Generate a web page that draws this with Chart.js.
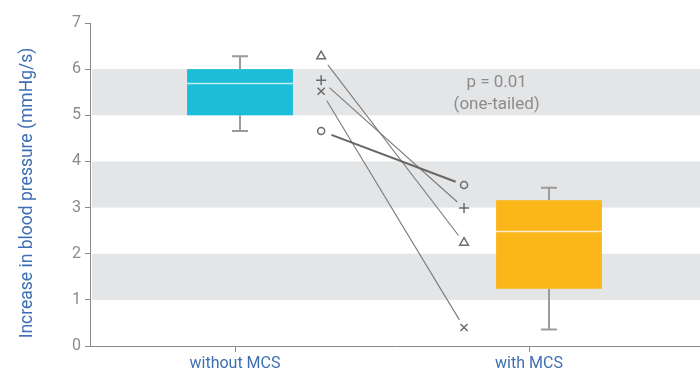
<!DOCTYPE html>
<html>
<head>
<meta charset="utf-8">
<script src="https://cdn.jsdelivr.net/npm/chart.js@4/dist/chart.umd.min.js"></script>
<style>
  html, body { margin: 0; padding: 0; background: #ffffff; }
  #wrap { width: 700px; height: 374px; }
</style>
</head>
<body>
<div id="wrap"><canvas id="c" width="700" height="374"></canvas></div>
<script>
// Groups on the x axis
const categories = ['without MCS', 'with MCS'];

// Box-plot summary per group
const boxMin    = [4.66, 0.36];
const boxQ1     = [5.00, 1.24];
const boxMedian = [5.69, 2.48];
const boxQ3     = [6.00, 3.16];
const boxMax    = [6.28, 3.43];

// Individual subjects, measured without and with MCS
const subjectMarkers = ['triangle', 'cross', 'crossRot', 'circle'];
const withoutMCS     = [6.28, 5.76, 5.52, 4.66];
const withMCS        = [2.24, 2.99, 0.40, 3.49];

// Shaded horizontal bands [from, to]
const bands = [[1, 2], [3, 4], [5, 6]];

// Y axis ticks
const yTicks = [0, 1, 2, 3, 4, 5, 6, 7];

// Annotation text
const pText = ['p = 0.01', '(one-tailed)'];

// Layout in x-axis units: category ticks sit at 1 and 2
const boxX = [1.017, 2.068];
const boxHalfWidth = 0.18;
const pairX = [1.293, 1.779];
const noteX = 1.89;
const noteY = [5.70, 5.22];

const FONT = 'Roboto, "DejaVu Sans", sans-serif';
const GREY_TEXT = '#8c8c8c';
const BLUE_TEXT = '#3f6fb3';
const BOX_COLORS = ['#1bbdd9', '#fbb619'];

const subjectDatasets = subjectMarkers.map((m, i) => ({
  type: 'scatter',
  data: [{ x: pairX[0], y: withoutMCS[i] }, { x: pairX[1], y: withMCS[i] }],
  pointStyle: m,
  pointRadius: m === 'circle' ? 3.5 : 5,
  pointBorderColor: '#6b6b6b',
  pointBackgroundColor: 'rgba(0,0,0,0)',
  pointBorderWidth: 1.5,
  showLine: false
}));

// Background bands, boxes, whiskers, connecting lines and annotation
const decor = {
  id: 'decor',
  beforeDatasetsDraw(chart) {
    const { ctx, chartArea: a, scales: { x, y } } = chart;
    ctx.save();
    ctx.fillStyle = '#e4e5e7';
    bands.forEach(([lo, hi]) => {
      const top = y.getPixelForValue(hi), bot = y.getPixelForValue(lo);
      ctx.fillRect(a.left + 2, top, a.right - a.left - 2, bot - top);
    });
    categories.forEach((c, i) => {
      const cx = x.getPixelForValue(boxX[i]);
      const l = x.getPixelForValue(boxX[i] - boxHalfWidth);
      const r = x.getPixelForValue(boxX[i] + boxHalfWidth);
      const q1 = y.getPixelForValue(boxQ1[i]), q3 = y.getPixelForValue(boxQ3[i]);
      const mn = y.getPixelForValue(boxMin[i]), mx = y.getPixelForValue(boxMax[i]);
      const md = y.getPixelForValue(boxMedian[i]);
      ctx.strokeStyle = '#9b9b9b';
      ctx.lineWidth = 2;
      ctx.beginPath();
      ctx.moveTo(cx, q3); ctx.lineTo(cx, mx);
      ctx.moveTo(cx - 8, mx); ctx.lineTo(cx + 8, mx);
      ctx.moveTo(cx, q1); ctx.lineTo(cx, mn);
      ctx.moveTo(cx - 8, mn); ctx.lineTo(cx + 8, mn);
      ctx.stroke();
      ctx.fillStyle = BOX_COLORS[i];
      ctx.fillRect(l, q3, r - l, q1 - q3);
      ctx.strokeStyle = 'rgba(255,255,255,0.75)';
      ctx.lineWidth = 1.5;
      ctx.beginPath();
      ctx.moveTo(l, md); ctx.lineTo(r, md);
      ctx.stroke();
    });
    // connecting lines stop just short of each marker
    subjectMarkers.forEach((m, i) => {
      const x0 = x.getPixelForValue(pairX[0]), y0 = y.getPixelForValue(withoutMCS[i]);
      const x1 = x.getPixelForValue(pairX[1]), y1 = y.getPixelForValue(withMCS[i]);
      const len = Math.hypot(x1 - x0, y1 - y0);
      const ux = (x1 - x0) / len, uy = (y1 - y0) / len;
      const gapStart = 11, gapEnd = 9;
      ctx.strokeStyle = m === 'circle' ? '#666666' : '#7a7a7a';
      ctx.lineWidth = m === 'circle' ? 2 : 1.1;
      ctx.beginPath();
      ctx.moveTo(x0 + ux * gapStart, y0 + uy * gapStart);
      ctx.lineTo(x1 - ux * gapEnd, y1 - uy * gapEnd);
      ctx.stroke();
    });
    ctx.fillStyle = GREY_TEXT;
    ctx.font = '17px ' + FONT;
    ctx.textAlign = 'center';
    ctx.textBaseline = 'middle';
    pText.forEach((t, k) => {
      ctx.fillText(t, x.getPixelForValue(noteX), y.getPixelForValue(noteY[k]));
    });
    ctx.restore();
  },
  afterDraw(chart) {
    const { ctx } = chart;
    ctx.save();
    ctx.translate(28, 193);
    ctx.rotate(-Math.PI / 2);
    ctx.fillStyle = BLUE_TEXT;
    ctx.font = '17.5px ' + FONT;
    ctx.textAlign = 'center';
    ctx.textBaseline = 'middle';
    ctx.fillText('Increase in blood pressure (mmHg/s)', 0, 0);
    ctx.restore();
  }
};

new Chart(document.getElementById('c'), {
  type: 'scatter',
  data: { datasets: subjectDatasets },
  options: {
    responsive: false,
    animation: false,
    layout: { autoPadding: false, padding: { top: 23, right: 0, left: 0, bottom: 0 } },
    plugins: { legend: { display: false }, tooltip: { enabled: false } },
    scales: {
      x: {
        type: 'linear',
        min: 0.5068,
        max: 2.5816,
        afterBuildTicks(scale) { scale.ticks = [{ value: 1 }, { value: 2 }]; },
        afterFit(scale) { scale.height = 28; },
        ticks: {
          color: BLUE_TEXT,
          font: { family: FONT, size: 16 },
          padding: 2,
          autoSkip: false,
          maxRotation: 0,
          callback: (v) => categories[Math.round(v) - 1]
        },
        grid: { drawOnChartArea: false, color: '#8a8a8a', tickLength: 6, tickWidth: 1 },
        border: { color: '#8a8a8a', width: 1 }
      },
      y: {
        min: 0,
        max: 7,
        afterBuildTicks(scale) { scale.ticks = yTicks.map(v => ({ value: v })); },
        afterFit(scale) { scale.width = 90; },
        ticks: {
          color: GREY_TEXT,
          font: { family: FONT, size: 16 },
          padding: 4
        },
        grid: { drawOnChartArea: false, color: '#8a8a8a', tickLength: 5, tickWidth: 1 },
        border: { color: '#8a8a8a', width: 1 }
      }
    }
  },
  plugins: [decor]
});
</script>
</body>
</html>
